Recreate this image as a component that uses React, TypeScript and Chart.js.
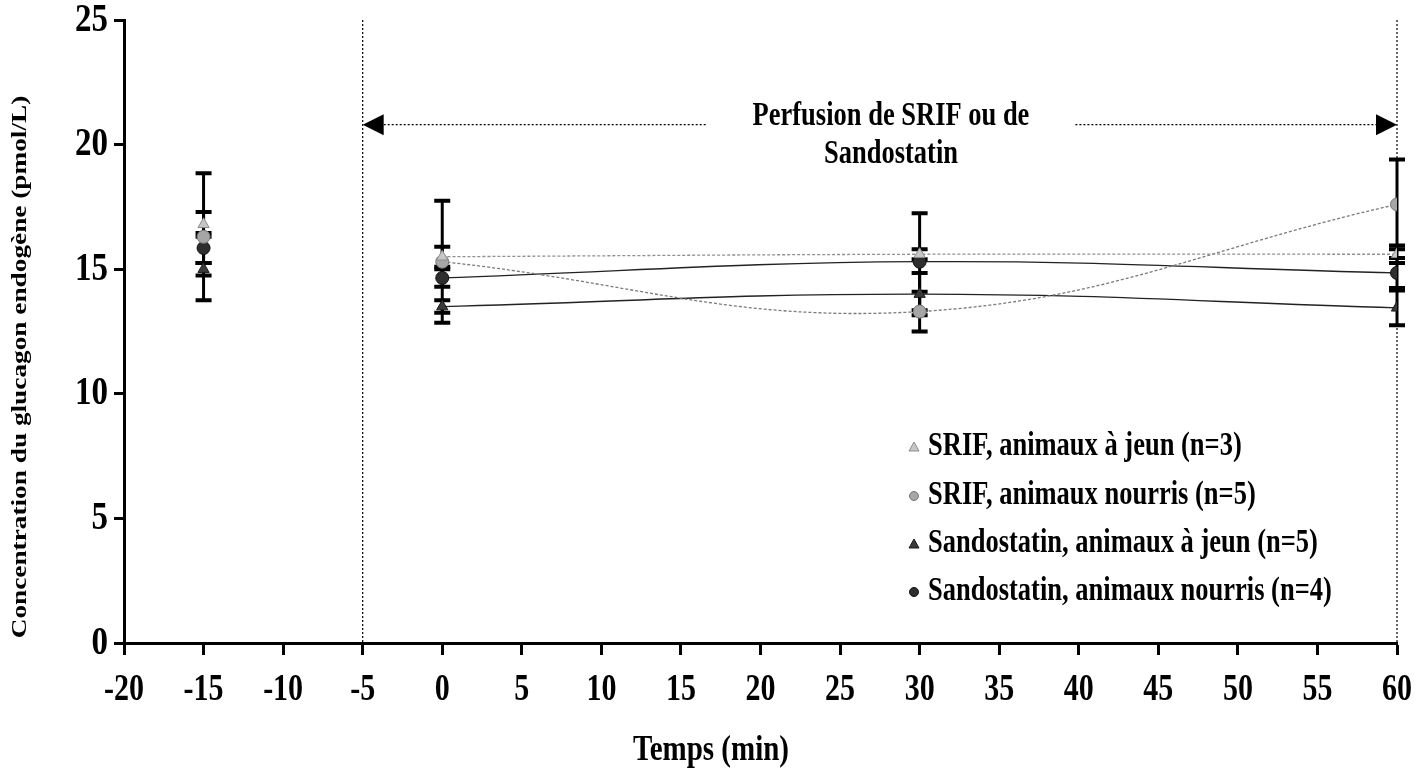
import React, { useEffect, useRef } from "react";
import { Chart, registerables } from "chart.js";

Chart.register(...registerables);

// Sampling times (min); -15 is the pre-infusion baseline
const times = [-15, 0, 30, 60];

// Mean endogenous glucagon (pmol/L) and SEM for each group
const srifJeun = [16.8, 15.5, 15.6, 15.6];
const srifJeunSem = [0.5, 0.4, 0.2, 0.35];
const srifNourris = [16.3, 15.3, 13.3, 17.6];
const srifNourrisSem = [2.55, 2.45, 0.8, 1.8];
const sandoJeun = [15.0, 13.5, 14.0, 13.45];
const sandoJeunSem = [0.25, 0.25, 0.85, 0.7];
const sandoNourris = [15.85, 14.65, 15.3, 14.85];
const sandoNourrisSem = [0.6, 0.35, 1.95, 0.6];

const seriesLabels = [
  "SRIF, animaux à jeun (n=3)",
  "SRIF, animaux nourris (n=5)",
  "Sandostatin, animaux à jeun (n=5)",
  "Sandostatin, animaux nourris (n=4)",
];

// Axis ranges
const xMin = -20;
const xMax = 60;
const xStep = 5;
const yMin = 0;
const yMax = 25;
const yStep = 5;

const xTitle = "Temps (min)";
const yTitle = "Concentration du glucagon endogène (pmol/L)";

// Infusion period marker
const perfusionStart = -5;
const perfusionEnd = 60;
const arrowLevel = 20.8;
const perfusionLabelX = 28.2;
const perfusionLabel = ["Perfusion de SRIF ou de", "Sandostatin"];

const SERIF = '"Liberation Serif", "Times New Roman", serif';
// Glyphs are drawn taller than wide (typeset look of the figure)
const STRETCH = 1.24;

const styles = [
  { point: "triangle", fill: "#c6c6c6", stroke: "#8c8c8c", line: "#8f8f8f", dash: [3, 2], width: 1.3 },
  { point: "circle", fill: "#a6a6a6", stroke: "#777777", line: "#7a7a7a", dash: [3, 2], width: 1.3 },
  { point: "triangle", fill: "#3a3a3a", stroke: "#1a1a1a", line: "#222222", dash: [], width: 1.3 },
  { point: "circle", fill: "#2e2e2e", stroke: "#111111", line: "#222222", dash: [], width: 1.3 },
];

const seriesValues = [srifJeun, srifNourris, sandoJeun, sandoNourris];
const seriesSem = [srifJeunSem, srifNourrisSem, sandoJeunSem, sandoNourrisSem];

function drawText(
  ctx: CanvasRenderingContext2D,
  text: string,
  x: number,
  y: number,
  size: number,
  align: CanvasTextAlign,
  rotate = 0
) {
  ctx.save();
  ctx.font = `bold ${size}px ${SERIF}`;
  ctx.fillStyle = "#000";
  ctx.textAlign = align;
  ctx.textBaseline = "middle";
  ctx.translate(x, y);
  if (rotate) {
    ctx.rotate(rotate);
    ctx.scale(STRETCH, 1);
  } else {
    ctx.scale(1, STRETCH);
  }
  ctx.fillText(text, 0, 0);
  ctx.restore();
}

const errorBarPlugin = {
  id: "errorBars",
  beforeDatasetsDraw(chart: any) {
    const { ctx } = chart;
    const y = chart.scales.y;
    ctx.save();
    ctx.strokeStyle = "#000";
    chart.data.datasets.forEach((ds: any, i: number) => {
      const meta = chart.getDatasetMeta(i);
      if (!ds.sem) return;
      meta.data.forEach((pt: any, k: number) => {
        const v = ds.data[k].y;
        const e = ds.sem[k];
        const top = y.getPixelForValue(v + e);
        const bot = y.getPixelForValue(v - e);
        ctx.lineWidth = 3;
        ctx.beginPath();
        ctx.moveTo(pt.x, top);
        ctx.lineTo(pt.x, bot);
        ctx.stroke();
        ctx.lineWidth = 4;
        ctx.beginPath();
        ctx.moveTo(pt.x - 8, top);
        ctx.lineTo(pt.x + 8, top);
        ctx.moveTo(pt.x - 8, bot);
        ctx.lineTo(pt.x + 8, bot);
        ctx.stroke();
      });
    });
    ctx.restore();
  },
};

const perfusionPlugin = {
  id: "perfusion",
  beforeDatasetsDraw(chart: any) {
    const { ctx } = chart;
    const xs = chart.scales.x;
    const ys = chart.scales.y;
    const x0 = xs.getPixelForValue(perfusionStart);
    const x1 = xs.getPixelForValue(perfusionEnd);
    const yTop = ys.getPixelForValue(yMax);
    const yBot = ys.getPixelForValue(yMin);
    const ya = ys.getPixelForValue(arrowLevel);
    const xc = xs.getPixelForValue(perfusionLabelX);

    ctx.save();
    ctx.strokeStyle = "#000";
    ctx.lineWidth = 1.2;
    ctx.setLineDash([2, 2]);
    [x0, x1].forEach((x) => {
      ctx.beginPath();
      ctx.moveTo(x, yTop);
      ctx.lineTo(x, yBot);
      ctx.stroke();
    });

    ctx.font = `bold 26.5px ${SERIF}`;
    const tw = ctx.measureText(perfusionLabel[0]).width;
    const head = 21;
    const gap = 46;
    ctx.beginPath();
    ctx.moveTo(x0 + head, ya);
    ctx.lineTo(xc - tw / 2 - gap, ya);
    ctx.moveTo(xc + tw / 2 + gap, ya);
    ctx.lineTo(x1 - head, ya);
    ctx.stroke();
    ctx.setLineDash([]);

    ctx.fillStyle = "#000";
    ctx.beginPath();
    ctx.moveTo(x0, ya);
    ctx.lineTo(x0 + head, ya - 10.5);
    ctx.lineTo(x0 + head, ya + 10.5);
    ctx.closePath();
    ctx.fill();
    ctx.beginPath();
    ctx.moveTo(x1, ya);
    ctx.lineTo(x1 - head, ya - 10.5);
    ctx.lineTo(x1 - head, ya + 10.5);
    ctx.closePath();
    ctx.fill();
    ctx.restore();

    drawText(ctx, perfusionLabel[0], xc, ya - 8, 26.5, "center");
    drawText(ctx, perfusionLabel[1], xc, ya + 30, 26.5, "center");
  },
};

// Tick labels, axis titles and the inset legend
const textPlugin = {
  id: "texts",
  afterDraw(chart: any) {
    const { ctx, chartArea } = chart;
    const xs = chart.scales.x;
    const ys = chart.scales.y;

    xs.ticks.forEach((t: any) => {
      drawText(ctx, String(t.label), xs.getPixelForValue(t.value), chartArea.bottom + 47, 30, "center");
    });
    ys.ticks.forEach((t: any) => {
      drawText(ctx, String(t.label), chartArea.left - 16, ys.getPixelForValue(t.value), 33, "right");
    });

    drawText(ctx, xTitle, 711, chartArea.bottom + 108, 29, "center");
    drawText(ctx, yTitle, 20, 367, 22, "center", -Math.PI / 2);

    const textX = chartArea.right - 469;
    const markX = textX - 14;
    const rows = [196, 147, 99, 51];
    seriesLabels.forEach((label, i) => {
      const yy = chartArea.bottom - rows[i];
      const s = styles[i];
      ctx.save();
      ctx.fillStyle = s.fill;
      ctx.strokeStyle = s.stroke;
      ctx.lineWidth = 1;
      ctx.beginPath();
      if (s.point === "circle") {
        ctx.arc(markX, yy, 4.5, 0, Math.PI * 2);
      } else {
        ctx.moveTo(markX, yy - 5);
        ctx.lineTo(markX + 5, yy + 4);
        ctx.lineTo(markX - 5, yy + 4);
        ctx.closePath();
      }
      ctx.fill();
      ctx.stroke();
      ctx.restore();
      drawText(ctx, label, textX, yy, 26.5, "left");
    });
  },
};

export default function App() {
  const canvasRef = useRef<HTMLCanvasElement | null>(null);

  useEffect(() => {
    if (!canvasRef.current) return;
    const datasets: any[] = [];
    seriesValues.forEach((vals, i) => {
      const s = styles[i];
      const common = {
        label: seriesLabels[i],
        pointStyle: s.point,
        pointRadius: 6.5,
        pointBackgroundColor: s.fill,
        pointBorderColor: s.stroke,
        pointBorderWidth: 1,
        borderColor: s.line,
        borderWidth: s.width,
        borderDash: s.dash,
        backgroundColor: s.fill,
      };
      datasets.push({
        ...common,
        data: times.slice(1).map((t, k) => ({ x: t, y: vals[k + 1] })),
        sem: seriesSem[i].slice(1),
        tension: 0.4,
        fill: false,
      });
      datasets.push({
        ...common,
        data: [{ x: times[0], y: vals[0] }],
        sem: seriesSem[i].slice(0, 1),
        showLine: false,
      });
    });

    const chart = new Chart(canvasRef.current, {
      type: "line",
      data: { datasets },
      options: {
        animation: false,
        responsive: true,
        maintainAspectRatio: false,
        layout: { padding: { top: 20, right: 23, bottom: 0, left: 0 } },
        plugins: {
          legend: { display: false },
          tooltip: { enabled: false },
        },
        scales: {
          x: {
            type: "linear",
            min: xMin,
            max: xMax,
            ticks: {
              stepSize: xStep,
              color: "rgba(0,0,0,0)",
              font: { family: SERIF, size: 12, weight: "bold" },
              padding: 14,
            },
            grid: {
              drawOnChartArea: false,
              tickLength: 12,
              tickWidth: 3,
              tickColor: "#000",
            },
            border: { display: true, color: "#000", width: 3 },
            afterFit(scale: any) {
              scale.height = 138;
            },
          },
          y: {
            type: "linear",
            min: yMin,
            max: yMax,
            ticks: {
              stepSize: yStep,
              color: "rgba(0,0,0,0)",
              font: { family: SERIF, size: 12, weight: "bold" },
              padding: 6,
            },
            grid: {
              drawOnChartArea: false,
              tickLength: 10,
              tickWidth: 3,
              tickColor: "#000",
            },
            border: { display: true, color: "#000", width: 3 },
            afterFit(scale: any) {
              scale.width = 124;
            },
          },
        },
      },
      plugins: [errorBarPlugin, perfusionPlugin, textPlugin],
    } as any);

    return () => chart.destroy();
  }, []);

  return (
    <div
      style={{
        position: "fixed",
        left: 0,
        top: 0,
        width: 1420,
        height: 781,
        background: "#fff",
      }}
    >
      <canvas ref={canvasRef} />
    </div>
  );
}
